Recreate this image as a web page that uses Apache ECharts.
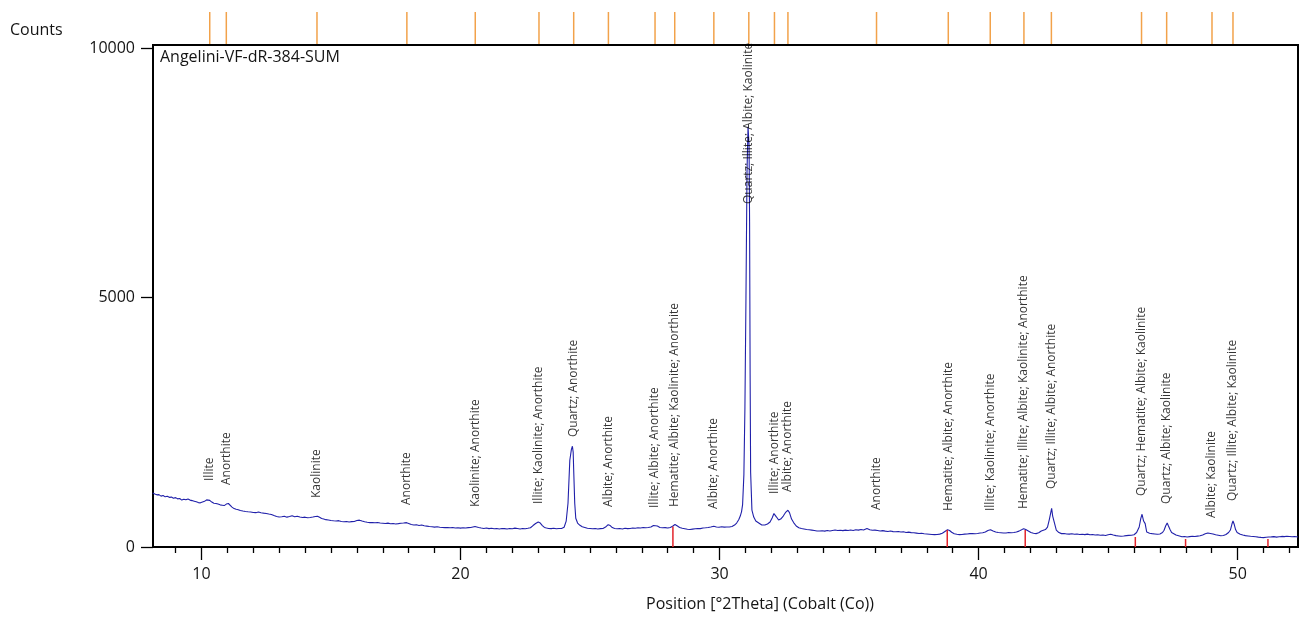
<!DOCTYPE html>
<html><head><meta charset="utf-8">
<script src="https://cdn.jsdelivr.net/npm/echarts@6/dist/echarts.min.js"></script>
<style>html,body{margin:0;padding:0;background:#fff}#c{width:1300px;height:619px}</style>
</head><body><div id="c"></div>
<script>
// measured scan: [2theta, counts]
const scan = [
[8.12,1080],[8.20,1062],[8.28,1045],[8.36,1050],[8.44,1020],[8.52,1032],[8.60,1005],[8.68,1018],[8.76,995],[8.84,1000],
[8.92,978],[9.00,990],[9.08,965],[9.16,972],[9.24,940],[9.32,958],[9.40,945],[9.48,962],[9.56,940],[9.64,930],
[9.72,918],[9.80,905],[9.88,890],[9.96,885],[10.04,900],[10.12,915],[10.20,945],[10.26,955],[10.32,935],[10.40,900],
[10.48,878],[10.56,872],[10.64,860],[10.72,845],[10.80,838],[10.88,830],[10.96,860],[11.04,872],[11.10,845],[11.18,800],
[11.26,770],[11.34,755],[11.42,748],[11.50,730],[11.60,720],[11.70,712],[11.80,705],[11.90,700],[12.00,692],[12.10,688],
[12.20,700],[12.30,685],[12.40,678],[12.50,672],[12.60,660],[12.70,650],[12.80,630],[12.90,612],[13.00,602],[13.10,605],
[13.20,615],[13.30,598],[13.40,610],[13.50,625],[13.60,605],[13.70,618],[13.80,600],[13.90,590],[14.00,598],[14.10,585],
[14.20,592],[14.30,600],[14.40,612],[14.48,615],[14.56,595],[14.64,570],[14.72,560],[14.80,548],[14.90,540],[15.00,532],
[15.10,525],[15.20,520],[15.30,528],[15.40,512],[15.50,505],[15.60,510],[15.70,500],[15.80,508],[15.90,512],[16.00,530],
[16.10,538],[16.20,520],[16.30,505],[16.40,495],[16.50,488],[16.60,492],[16.70,485],[16.80,490],[16.90,482],[17.00,476],
[17.10,470],[17.20,478],[17.30,465],[17.40,470],[17.50,462],[17.60,468],[17.70,475],[17.80,480],[17.92,488],[18.00,472],
[18.10,450],[18.20,440],[18.30,445],[18.40,432],[18.50,440],[18.60,425],[18.70,418],[18.80,410],[18.90,405],[19.00,398],
[19.10,405],[19.20,395],[19.30,392],[19.40,388],[19.50,392],[19.60,385],[19.70,390],[19.80,380],[19.90,386],[20.00,378],
[20.10,385],[20.20,380],[20.30,388],[20.40,392],[20.56,410],[20.70,392],[20.80,380],[20.90,372],[21.00,380],[21.10,368],
[21.20,375],[21.30,365],[21.40,372],[21.50,362],[21.60,370],[21.70,368],[21.80,360],[21.90,372],[22.00,365],[22.10,378],
[22.20,370],[22.30,362],[22.40,372],[22.50,366],[22.60,375],[22.70,385],[22.80,430],[22.90,470],[23.00,500],[23.08,480],
[23.16,430],[23.24,392],[23.32,380],[23.40,372],[23.50,368],[23.60,375],[23.70,365],[23.80,370],[23.90,372],[24.00,395],
[24.08,520],[24.15,876],[24.22,1738],[24.28,1950],[24.32,2019],[24.35,1900],[24.37,1540],[24.41,876],[24.45,575],[24.52,480],
[24.61,435],[24.70,405],[24.80,392],[24.90,375],[25.00,370],[25.10,365],[25.20,372],[25.30,360],[25.40,368],[25.50,372],
[25.60,400],[25.70,448],[25.78,430],[25.86,390],[25.95,372],[26.05,365],[26.15,370],[26.25,362],[26.35,375],[26.45,368],
[26.55,372],[26.65,380],[26.75,375],[26.85,385],[26.95,380],[27.05,390],[27.15,385],[27.25,392],[27.35,400],[27.45,430],
[27.52,455],[27.60,420],[27.70,392],[27.80,385],[27.90,388],[28.00,380],[28.10,392],[28.20,420],[28.28,450],[28.36,425],
[28.46,392],[28.56,375],[28.66,365],[28.76,355],[28.86,350],[28.96,358],[29.06,365],[29.16,372],[29.26,368],[29.36,380],
[29.46,385],[29.56,392],[29.66,400],[29.78,415],[29.88,400],[29.98,395],[30.08,405],[30.18,398],[30.28,402],[30.38,400],
[30.48,410],[30.58,440],[30.66,480],[30.74,545],[30.80,620],[30.85,710],[30.89,850],[30.94,1450],[30.98,2800],[31.02,5000],
[31.06,7500],[31.10,8420],[31.14,8050],[31.16,6500],[31.18,3500],[31.20,1500],[31.25,740],[31.32,600],[31.40,520],[31.50,485],
[31.63,440],[31.75,440],[31.85,460],[31.95,500],[32.03,580],[32.10,670],[32.14,680],[32.20,600],[32.28,540],[32.36,560],
[32.46,620],[32.56,700],[32.64,736],[32.70,690],[32.78,560],[32.86,490],[32.96,420],[33.06,385],[33.16,370],[33.26,360],
[33.36,350],[33.46,345],[33.56,338],[33.66,330],[33.76,322],[33.86,320],[33.96,325],[34.06,318],[34.16,330],[34.26,322],
[34.36,332],[34.46,340],[34.56,330],[34.66,335],[34.76,328],[34.86,338],[34.96,330],[35.06,340],[35.16,332],[35.26,345],
[35.36,338],[35.46,350],[35.56,342],[35.69,370],[35.80,345],[35.90,335],[36.00,338],[36.10,330],[36.20,322],[36.30,328],
[36.40,318],[36.50,312],[36.60,320],[36.70,308],[36.80,305],[36.90,310],[37.00,300],[37.10,305],[37.20,292],[37.30,298],
[37.40,288],[37.50,285],[37.60,278],[37.70,270],[37.80,275],[37.90,265],[38.00,260],[38.10,255],[38.20,250],[38.30,248],
[38.40,252],[38.50,258],[38.60,275],[38.70,310],[38.80,345],[38.88,330],[38.96,295],[39.06,265],[39.16,255],[39.26,248],
[39.36,250],[39.46,258],[39.56,262],[39.66,268],[39.76,270],[39.86,265],[39.96,272],[40.06,280],[40.16,285],[40.26,300],
[40.36,330],[40.46,345],[40.56,320],[40.66,300],[40.76,290],[40.86,285],[40.96,280],[41.06,282],[41.16,290],[41.26,285],
[41.36,292],[41.46,300],[41.56,318],[41.66,345],[41.74,368],[41.82,350],[41.92,320],[42.02,290],[42.12,275],[42.22,268],
[42.32,285],[42.42,320],[42.50,335],[42.58,350],[42.66,400],[42.73,550],[42.79,700],[42.82,775],[42.86,620],[42.92,500],
[43.00,340],[43.10,290],[43.20,268],[43.30,272],[43.40,262],[43.50,258],[43.60,265],[43.70,255],[43.80,260],[43.90,252],
[44.00,255],[44.10,248],[44.20,258],[44.30,245],[44.40,250],[44.50,240],[44.60,245],[44.70,235],[44.80,240],[44.90,232],
[45.00,245],[45.10,255],[45.20,240],[45.30,228],[45.40,222],[45.50,215],[45.60,220],[45.70,228],[45.80,232],[45.90,235],
[46.00,245],[46.10,290],[46.20,401],[46.26,569],[46.31,656],[46.37,521],[46.43,469],[46.49,301],[46.60,275],[46.70,268],
[46.80,262],[46.90,255],[47.00,262],[47.10,290],[47.16,335],[47.22,420],[47.28,481],[47.33,420],[47.39,349],[47.45,290],
[47.52,265],[47.62,240],[47.72,225],[47.85,205],[47.95,212],[48.05,200],[48.15,208],[48.25,215],[48.35,210],[48.45,218],
[48.55,225],[48.65,240],[48.75,265],[48.85,280],[48.95,272],[49.05,262],[49.15,245],[49.25,235],[49.35,225],[49.45,232],
[49.55,250],[49.65,290],[49.72,340],[49.78,460],[49.82,521],[49.87,450],[49.92,349],[49.98,290],[50.10,255],[50.20,240],
[50.30,228],[50.40,222],[50.50,215],[50.60,210],[50.70,205],[50.80,198],[50.90,192],[51.00,188],[51.10,195],[51.20,200],
[51.30,202],[51.40,208],[51.50,198],[51.60,205],[51.70,212],[51.80,208],[51.90,215],[52.00,210],[52.10,205],[52.20,212],
[52.33,201]
];

// peak identification
const peakPos = [10.32,10.96,14.46,17.93,20.57,23.03,24.37,25.71,27.51,28.27,29.78,31.13,32.12,32.64,36.06,38.83,40.45,41.75,42.81,46.29,47.26,49.01,49.82];
const peakLabelBase = [1323,1242,982,842,802,862,2204,802,782,802,762,6874,1062,1102,741,721,721,761,1162,1022,862,581,922];
const peakNames = [
 'Illite','Anorthite','Kaolinite','Anorthite','Kaolinite; Anorthite','Illite; Kaolinite; Anorthite',
 'Quartz; Anorthite','Albite; Anorthite','Illite; Albite; Anorthite','Hematite; Albite; Kaolinite; Anorthite',
 'Albite; Anorthite','Quartz; Illite; Albite; Kaolinite','Illite; Anorthite','Albite; Anorthite','Anorthite',
 'Hematite; Albite; Anorthite','Illite; Kaolinite; Anorthite','Hematite; Illite; Albite; Kaolinite; Anorthite',
 'Quartz; Illite; Albite; Anorthite','Quartz; Hematite; Albite; Kaolinite','Quartz; Albite; Kaolinite',
 'Albite; Kaolinite','Quartz; Illite; Albite; Kaolinite'
];

// reference pattern sticks (red)
const refPos = [28.20,38.79,41.80,46.05,47.99,51.17];
const refInt = [410,340,340,200,160,160];

// axes
const xMajorTicks = [10,20,30,40,50];
const xMinorTicks = [9,11,12,13,14,15,16,17,18,19,21,22,23,24,25,26,27,28,29,31,32,33,34,35,36,37,38,39,41,42,43,44,45,46,47,48,49,51,52];
const yTicks = [0,5000,10000];
const X_MIN = 8.13, X_MAX = 52.33, Y_MAX = 10060;

const FONT = 'Open Sans';
const TXT = '#141414';

const chart = echarts.init(document.getElementById('c'), null, {renderer:'canvas'});
chart.setOption({
  animation:false,
  textStyle:{fontFamily:FONT},
  grid:[
    {left:153,right:2,top:45,bottom:72,show:true,borderColor:'#000',borderWidth:2,backgroundColor:'transparent'},
    {left:153,right:2,top:12,height:32}
  ],
  xAxis:[
    {gridIndex:0,type:'value',min:X_MIN,max:X_MAX,position:'bottom',
     axisLine:{show:true,onZero:false,lineStyle:{color:'#000',width:2}},
     axisTick:{show:true,length:6,customValues:xMinorTicks,lineStyle:{color:'#000',width:1.3}},
     axisLabel:{show:false},splitLine:{show:false}},
    {gridIndex:0,type:'value',min:X_MIN,max:X_MAX,position:'bottom',
     axisLine:{show:false,onZero:false},
     axisTick:{show:true,length:13,customValues:xMajorTicks,lineStyle:{color:'#000',width:1.3}},
     axisLabel:{show:true,customValues:xMajorTicks,margin:19,fontSize:16,color:TXT,fontFamily:FONT,
                formatter:v=>String(v)},
     splitLine:{show:false}},
    {gridIndex:1,type:'value',min:X_MIN,max:X_MAX,show:false}
  ],
  yAxis:[
    {gridIndex:0,type:'value',min:0,max:Y_MAX,
     axisLine:{show:true,onZero:false,lineStyle:{color:'#000',width:2}},
     axisTick:{show:true,length:12,customValues:yTicks,lineStyle:{color:'#000',width:1.3}},
     axisLabel:{show:true,customValues:yTicks,margin:18,fontSize:16,color:TXT,fontFamily:FONT,
                formatter:v=>String(v)},
     splitLine:{show:false}},
    {gridIndex:1,type:'value',min:0,max:1,show:false}
  ],
  series:[
    {type:'line',xAxisIndex:0,yAxisIndex:0,data:scan,showSymbol:false,symbol:'none',
     lineStyle:{color:'#2020aa',width:1.1},z:3},
    {type:'bar',xAxisIndex:0,yAxisIndex:0,barWidth:1.5,
     data:refPos.map((p,i)=>[p,refInt[i]]),itemStyle:{color:'#e3242b'},z:4},
    {type:'scatter',xAxisIndex:0,yAxisIndex:0,symbolSize:0,
     data:peakPos.map((p,i)=>({value:[p,peakLabelBase[i]],name:peakNames[i]})),
     label:{show:true,formatter:'{b}',position:'insideBottom',distance:0,rotate:90,
            align:'left',verticalAlign:'middle',fontSize:12,color:'#000',fontFamily:FONT},
     z:5},
    {type:'bar',xAxisIndex:2,yAxisIndex:1,barWidth:1.5,
     data:peakPos.map(p=>[p,1]),itemStyle:{color:'#f2a24a'}}
  ],
  graphic:[
    {type:'text',x:10,y:30,style:{text:'Counts',fontSize:16,fontFamily:FONT,fill:TXT,align:'left',verticalAlign:'middle'}},
    {type:'text',x:160,y:57,style:{text:'Angelini-VF-dR-384-SUM',fontSize:16,fontFamily:FONT,fill:TXT,align:'left',verticalAlign:'middle'}},
    {type:'text',x:760,y:604,style:{text:'Position [°2Theta] (Cobalt (Co))',fontSize:16,fontFamily:FONT,fill:TXT,align:'center',verticalAlign:'middle'}}
  ]
});
</script></body></html>
